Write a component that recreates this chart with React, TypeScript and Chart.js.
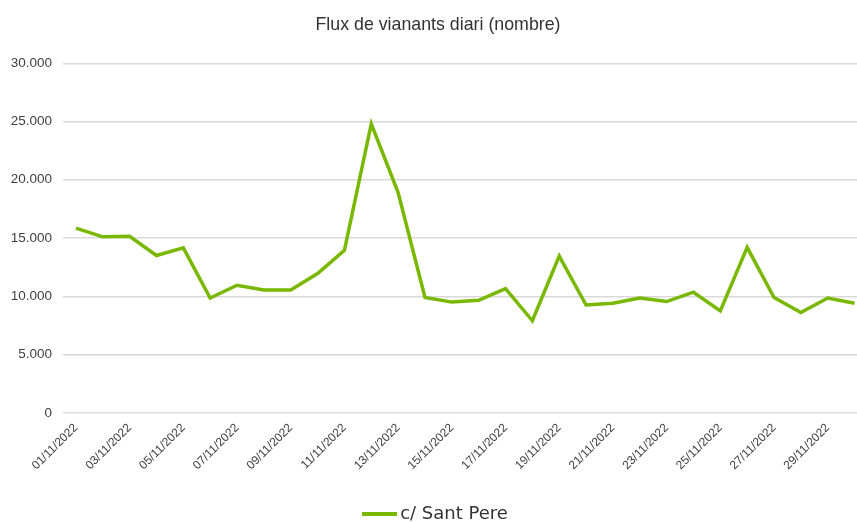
import React, { useEffect, useRef } from 'react';
import { Chart, registerables } from 'chart.js';

Chart.register(...registerables);

const TITLE = 'Flux de vianants diari (nombre)';
const SERIES_NAME = 'c/ Sant Pere';

const DATES = [
  '01/11/2022', '02/11/2022', '03/11/2022', '04/11/2022', '05/11/2022',
  '06/11/2022', '07/11/2022', '08/11/2022', '09/11/2022', '10/11/2022',
  '11/11/2022', '12/11/2022', '13/11/2022', '14/11/2022', '15/11/2022',
  '16/11/2022', '17/11/2022', '18/11/2022', '19/11/2022', '20/11/2022',
  '21/11/2022', '22/11/2022', '23/11/2022', '24/11/2022', '25/11/2022',
  '26/11/2022', '27/11/2022', '28/11/2022', '29/11/2022', '30/11/2022',
];

const VALUES = [
  15850, 15100, 15150, 13500, 14150,
  9850, 10950, 10550, 10550, 11950,
  13950, 24800, 18900, 9900, 9500,
  9650, 10650, 7900, 13450, 9250,
  9400, 9850, 9550, 10350, 8750,
  14200, 9900, 8600, 9850, 9400,
];

const Y_MIN = 0;
const Y_MAX = 30000;
const Y_STEP = 5000;

const LINE_COLOR = '#79b800';

const fmt = (v: number) => String(v).replace(/\B(?=(\d{3})+(?!\d))/g, '.');

export default function App() {
  const ref = useRef<HTMLCanvasElement | null>(null);

  useEffect(() => {
    if (!ref.current) return;
    const legendLine = document.createElement('canvas');
    legendLine.width = 35;
    legendLine.height = 4;
    const lctx = legendLine.getContext('2d');
    if (lctx) {
      lctx.fillStyle = LINE_COLOR;
      lctx.fillRect(0, 0, 35, 4);
    }

    Chart.defaults.font.family = "'Liberation Sans', Arial, sans-serif";

    const chart = new Chart(ref.current, {
      type: 'line',
      data: {
        labels: DATES,
        datasets: [
          {
            label: SERIES_NAME,
            data: VALUES,
            borderColor: LINE_COLOR,
            backgroundColor: LINE_COLOR,
            borderWidth: 3.5,
            pointRadius: 0,
            tension: 0,
            fill: false,
            yAxisID: 'y',
          },
        ],
      },
      options: {
        responsive: false,
        animation: false,
        layout: { padding: 0 },
        plugins: {
          title: {
            display: true,
            text: TITLE,
            color: '#333333',
            font: { size: 17.8, weight: 'normal' },
            padding: { top: 14.3, bottom: 27.6 },
          },
          legend: {
            position: 'bottom',
            labels: {
              usePointStyle: true,
              pointStyle: legendLine as any,
              pointStyleWidth: 23,
              color: '#333333',
              font: { family: "'DejaVu Sans', sans-serif", size: 18 },
              padding: 10,
            },
          },
          tooltip: { enabled: false },
        },
        scales: {
          x: {
            offset: true,
            grid: { display: false },
            border: { display: false },
            ticks: {
              autoSkip: false,
              maxRotation: 45,
              minRotation: 45,
              padding: 0,
              color: '#404040',
              font: { size: 12 },
              callback: (_v: any, i: number) => (i % 2 === 0 ? DATES[i] : ''),
            },
            afterFit: (s: any) => {
              s.height = 82.2;
            },
          },
          y: {
            min: Y_MIN,
            max: Y_MAX,
            grid: { color: '#d9d9d9', lineWidth: 1.5, drawTicks: false },
            border: { display: false },
            ticks: {
              stepSize: Y_STEP,
              padding: 10.5,
              color: '#404040',
              font: { size: 13.5 },
              callback: (v: any) => fmt(Number(v)),
            },
            afterFit: (s: any) => {
              s.width = 62.5;
            },
          },
          yRight: {
            type: 'linear',
            position: 'right',
            display: true,
            grid: { display: false },
            border: { display: false },
            ticks: { display: false },
            afterFit: (s: any) => {
              s.width = 8;
            },
          },
        },
      } as any,
    });
    return () => chart.destroy();
  }, []);

  return (
    <div
      style={{
        position: 'fixed',
        left: 0,
        top: 0,
        width: 857,
        height: 523,
        overflow: 'hidden',
        background: '#ffffff',
      }}
    >
      <canvas ref={ref} width={876} height={533} style={{ width: 876, height: 533, display: 'block' }} />
    </div>
  );
}
